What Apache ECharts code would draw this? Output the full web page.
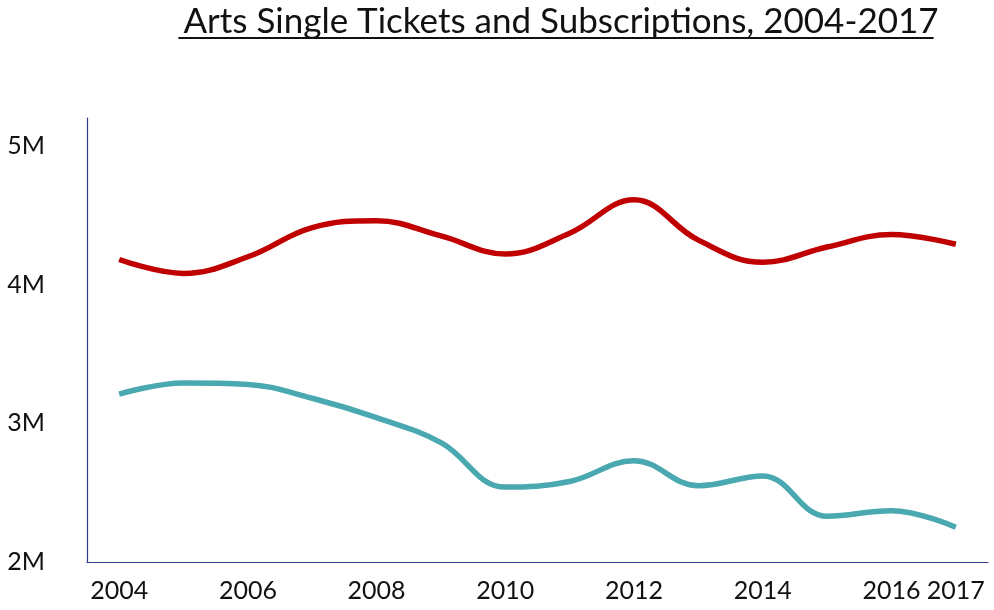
<!DOCTYPE html>
<html>
<head>
<meta charset="utf-8">
<title>Arts Single Tickets and Subscriptions, 2004-2017</title>
<script src="https://cdn.jsdelivr.net/npm/echarts@6/dist/echarts.min.js"></script>
<style>
  html, body { margin: 0; padding: 0; background: #fff; }
  #chart { width: 994px; height: 610px; }
</style>
</head>
<body>
<div id="chart"></div>
<script>
// Years on the horizontal axis
const years = ['2004', '2005', '2006', '2007', '2008', '2009', '2010',
               '2011', '2012', '2013', '2014', '2015', '2016', '2017'];

// Attendance in millions
const singleTickets = [4.18, 4.08, 4.20, 4.41, 4.46, 4.35, 4.22,
                       4.37, 4.61, 4.32, 4.16, 4.27, 4.36, 4.29];
const subscriptions = [3.21, 3.29, 3.28, 3.18, 3.04, 2.86, 2.54,
                       2.58, 2.73, 2.55, 2.62, 2.33, 2.37, 2.25];

// Value axis ticks (millions)
const yMin = 2, yMax = 5.2, yStep = 1;

const titleText = 'Arts Single Tickets and Subscriptions, 2004-2017';
const titleSize = 35;
const FONT = 'Lato, "Open Sans", sans-serif';

// width of the title, used for its underline
const ctx = document.createElement('canvas').getContext('2d');
ctx.font = titleSize + 'px Lato';
const titleW = ctx.measureText(titleText).width;
const titleCx = 556;

const chart = echarts.init(document.getElementById('chart'));
chart.setOption({
  animation: false,
  backgroundColor: '#fff',
  title: {
    text: titleText,
    left: titleCx,
    top: -1,
    textAlign: 'center',
    textStyle: { fontFamily: 'Lato', fontSize: titleSize, fontWeight: 'normal', color: '#111' }
  },
  graphic: [{
    type: 'rect',
    shape: { x: titleCx - titleW / 2, y: 37, width: titleW, height: 2 },
    style: { fill: '#111' },
    silent: true
  }],
  grid: { left: 87, right: 6, top: 118, bottom: 48 },
  xAxis: {
    type: 'category',
    data: years,
    boundaryGap: true,
    axisLine: { lineStyle: { color: '#2b3990', width: 1.2 } },
    axisTick: { show: false },
    axisLabel: {
      interval: (i) => i % 2 === 0 || i === years.length - 1,
      margin: 16,
      fontFamily: FONT,
      fontSize: 25,
      color: '#111'
    }
  },
  yAxis: {
    type: 'value',
    min: yMin,
    max: yMax,
    interval: yStep,
    axisLine: { show: true, lineStyle: { color: '#2b3990', width: 1.2 } },
    axisTick: { show: false },
    splitLine: { show: false },
    axisLabel: {
      showMaxLabel: false,
      margin: 42,
      fontFamily: FONT,
      fontSize: 25,
      color: '#111',
      formatter: (v) => (Number.isInteger(v) ? v + 'M' : '')
    }
  },
  series: [
    {
      name: 'Single Tickets',
      type: 'line',
      data: singleTickets,
      smooth: 0.4,
      showSymbol: false,
      lineStyle: { color: '#c00000', width: 5.5 },
      itemStyle: { color: '#c00000' }
    },
    {
      name: 'Subscriptions',
      type: 'line',
      data: subscriptions,
      smooth: 0.4,
      showSymbol: false,
      lineStyle: { color: '#4aa8b1', width: 5.5 },
      itemStyle: { color: '#4aa8b1' }
    }
  ]
});
</script>
</body>
</html>
